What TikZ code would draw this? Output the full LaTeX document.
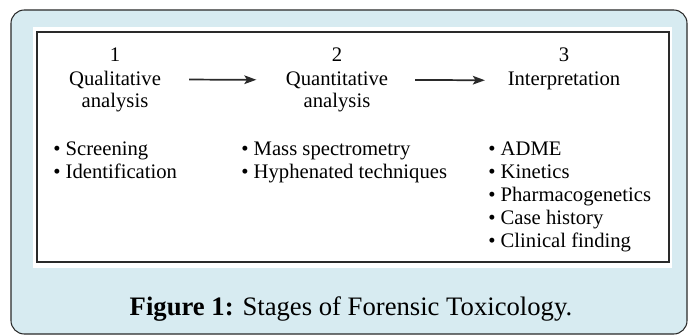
\documentclass[tikz,border=0pt]{standalone}
\usepackage{fontspec}
\setmainfont{Liberation Serif}
\usetikzlibrary{arrows.meta,positioning}
\definecolor{PanelBlue}{HTML}{D7EBF1}
\definecolor{FrameGray}{HTML}{2A2A2A}

\begin{document}
\begin{tikzpicture}[x=0.75pt,y=-0.75pt,
  stagetext/.style={inner sep=0pt, anchor=base, font=\fontsize{15.5}{17.2}\selectfont},
  itemlist/.style={inner sep=0pt, anchor=base west, align=left,
    font=\fontsize{15.5}{17.25}\selectfont},
  stagearrow/.style={-{Stealth[length=9pt,width=6.5pt,inset=2pt]}, line width=1.3pt, FrameGray}]
  \useasboundingbox (0,0) rectangle (688,335);
  % panel and frame
  \draw[FrameGray, fill=PanelBlue, line width=0.8pt, rounded corners=10pt]
    (11,10) rectangle (687,334);
  \fill[white] (33,27) rectangle (672,268);
  \draw[FrameGray, line width=1pt] (37,32) rectangle (669,262);
  % stages
  \node[stagetext] (num1) at (115,62) {1};
  \node[stagetext] (qual) at (115,85) {Qualitative};
  \node[stagetext] (qualb) at (115,107) {analysis};
  \node[stagetext] (num2) at (337,62) {2};
  \node[stagetext] (quant) at (337,85) {Quantitative};
  \node[stagetext] (quantb) at (337,107) {analysis};
  \node[stagetext] (num3) at (564,62) {3};
  \node[stagetext] (interp) at (564,85) {Interpretation};
  \draw[stagearrow, shorten <=21pt, shorten >=22pt] (qual.east) -- (quant.west);
  \draw[stagearrow, shorten <=20pt, shorten >=17pt] (quant.east) -- (interp.west);
  % bullet lists (anchored at the last line)
  \node[itemlist] (list1) at (53,178)
    {\textbullet\ Screening\\ \textbullet\ Identification};
  \node[itemlist] (list2) at (241,178)
    {\textbullet\ Mass spectrometry\\ \textbullet\ Hyphenated techniques};
  \node[itemlist] (list3) at (488,247)
    {\textbullet\ ADME\\ \textbullet\ Kinetics\\ \textbullet\ Pharmacogenetics\\
     \textbullet\ Case history\\ \textbullet\ Clinical finding};
  % caption
  \node[inner sep=0pt, anchor=base, font=\fontsize{20}{24}\selectfont] (caption) at (351,315)
    {\textbf{Figure 1:} Stages of Forensic Toxicology.};
\end{tikzpicture}
\end{document}
